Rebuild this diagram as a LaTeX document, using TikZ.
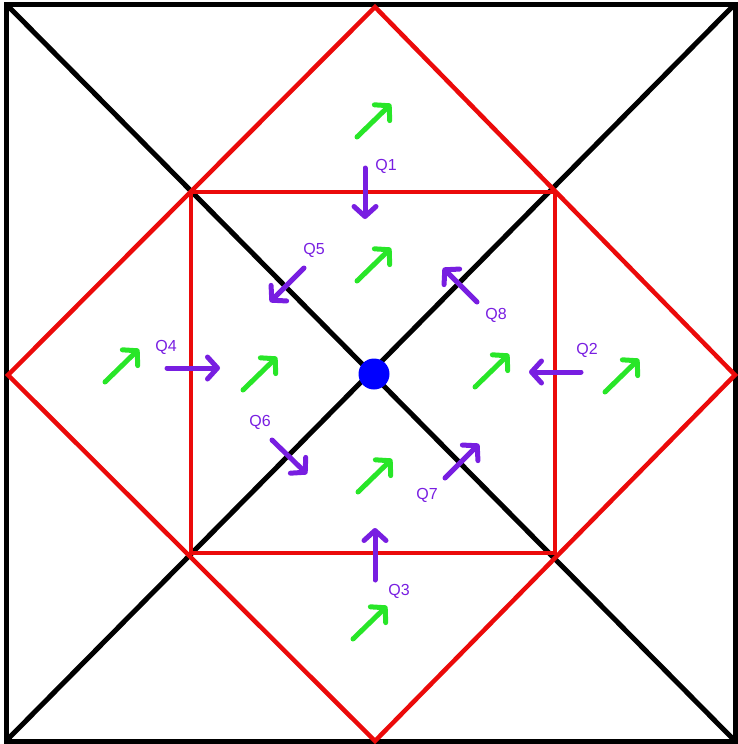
\documentclass[tikz,border=0pt]{standalone}
\usepackage{fontspec}
\setmainfont{Liberation Sans}
\usetikzlibrary{arrows.meta}
\definecolor{flowgreen}{RGB}{40,230,40}
\definecolor{fluxviolet}{RGB}{120,30,225}
\definecolor{edgered}{RGB}{235,10,10}

\begin{document}
\begin{tikzpicture}[
  x=1pt, y=-1pt,
  frame/.style={draw=black, line width=5pt},
  cut/.style={draw=edgered, line width=4.5pt, line join=miter},
  flow/.style={draw=flowgreen, line width=5pt, line cap=round, -{Straight Barb[length=10pt, width=22pt, round]}},
  flux/.style={draw=fluxviolet, line width=5pt, line cap=round, -{Straight Barb[length=10pt, width=22pt, round]}},
  tag/.style={text=fluxviolet, inner sep=0pt, font=\fontsize{16}{16}\selectfont}
]
\useasboundingbox (0,0) rectangle (738,744);

\coordinate (nw) at (6,4);
\coordinate (ne) at (735,4);
\coordinate (se) at (735,741);
\coordinate (sw) at (6,741);

% outer frame and diagonals
\draw[frame] (nw) rectangle (se);
\draw[frame] (nw) -- (se);
\draw[frame] (ne) -- (sw);

% red diamond and inner square
\draw[cut] (375,7) -- (735,375) -- (375,741) -- (8,375) -- cycle;
\draw[cut] (191,192) rectangle (555,553);

\node[circle, fill=blue, minimum size=31pt, inner sep=0pt] (centre) at (374,374) {};

% green flow arrows
\foreach \p in {(357,137),(357,281),(105,382),(243,390),(475,387),(605,392),(358,492),(353,639)}
  \draw[flow] \p -- ++(34,-33);

% violet arrows
\draw[flux] (365,168) -- (365,219);
\draw[flux] (581,372) -- (529,372);
\draw[flux] (375,580) -- (375,528);
\draw[flux] (167,368) -- (220,368);
\draw[flux] (304,268) -- (270,302);
\draw[flux] (272,440) -- (307,474);
\draw[flux] (445,478) -- (479,444);
\draw[flux] (477,302) -- (443,268);

\node[tag] (q1) at (386,166) {Q1};
\node[tag] (q2) at (587,350) {Q2};
\node[tag] (q3) at (399,591) {Q3};
\node[tag] (q4) at (166,347) {Q4};
\node[tag] (q5) at (314,250) {Q5};
\node[tag] (q6) at (260,422) {Q6};
\node[tag] (q7) at (427,495) {Q7};
\node[tag] (q8) at (496,315) {Q8};

\end{tikzpicture}
\end{document}
